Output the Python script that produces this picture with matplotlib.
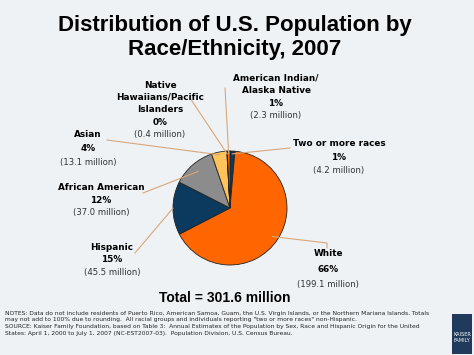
import numpy as np
import matplotlib.pyplot as plt
from matplotlib.patches import Rectangle

W, H = 474, 355

groups = ["Two or more races", "White", "Hispanic", "African American", "Asian",
          "Native Hawaiians/Pacific Islanders", "American Indian/Alaska Native"]
millions = [4.2, 199.1, 45.5, 37.0, 13.1, 0.4, 2.3]
pct_labels = ["1%", "66%", "15%", "12%", "4%", "0%", "1%"]
colors = ["#0b3a5e", "#ff6600", "#0b3a5e", "#8c8c8c", "#ffc35c", "#ffe0b0", "#ff6600"]

bg = "#eef2f5"
line_col = "#d8a77c"

fig = plt.figure(figsize=(W / 100, H / 100), dpi=100, facecolor=bg)


def px(x, y):
    return x / W, 1 - y / H


# pie centre at (230, 208) px, radius 57 px
cx, cy, r = 230, 208, 57
ax = fig.add_axes([(cx - r) / W, (H - cy - r) / H, 2 * r / W, 2 * r / H])
ax.set_facecolor(bg)
wedges, _ = ax.pie(millions, colors=colors, startangle=90, counterclock=False,
                   radius=1, wedgeprops=dict(edgecolor="#222222", linewidth=0.6))
ax.set_xlim(-1, 1)
ax.set_ylim(-1, 1)
ax.set_aspect("equal")
ax.axis("off")

title_font = "Liberation Sans"
fig.text(0.5 - 2 / W, 1 - 26 / H, "Distribution of U.S. Population by", ha="center", va="center",
         fontsize=16, fontweight="bold", family=title_font, color="black")
fig.text(0.5 - 2 / W, 1 - 50 / H, "Race/Ethnicity, 2007", ha="center", va="center",
         fontsize=16, fontweight="bold", family=title_font, color="black")


def label(x, y, name_lines, pct, mil, step=12.5):
    lines = name_lines + [pct]
    for i, t in enumerate(lines):
        fig.text(*px(x, y + i * step), t, ha="center", va="center",
                 fontsize=6.4, fontweight="bold", color="black")
    fig.text(*px(x, y + len(lines) * step), "(%.1f million)" % mil, ha="center",
             va="center", fontsize=6.1, color="#333333")


label(160, 85, ["Native", "Hawaiians/Pacific", "Islanders"], pct_labels[5], millions[5])
label(276, 78, ["American Indian/", "Alaska Native"], pct_labels[6], millions[6])
label(88, 135, ["Asian"], pct_labels[4], millions[4], step=13.5)
label(339, 144, ["Two or more races"], pct_labels[0], millions[0], step=13.5)
label(101, 188, ["African American"], pct_labels[3], millions[3])
label(112, 247, ["Hispanic"], pct_labels[2], millions[2])
label(328, 254, ["White"], pct_labels[1], millions[1], step=15)


# leader lines from label side to wedge
def leader(idx, pts, rr=1.0):
    w = wedges[idx]
    a = np.deg2rad((w.theta1 + w.theta2) / 2)
    tx = cx + rr * r * np.cos(a)
    ty = cy - rr * r * np.sin(a)
    xs = [p[0] for p in pts] + [tx]
    ys = [p[1] for p in pts] + [ty]
    fig.add_artist(plt.Line2D([x / W for x in xs], [1 - y / H for y in ys],
                              color=line_col, linewidth=0.8, transform=fig.transFigure))


leader(5, [(190, 98)], 0.95)
leader(6, [(225, 88)], 0.95)
leader(4, [(107, 140)], 0.95)
leader(0, [(290, 148)], 0.95)
leader(3, [(143, 193)], 0.85)
leader(2, [(135, 253)], 1.0)
leader(1, [(327, 248), (327, 243)], 0.9)

fig.text(*px(225, 298), "Total = 301.6 million", ha="center", va="center",
         fontsize=10, fontweight="bold", family=title_font, color="black")

notes = [
    "NOTES: Data do not include residents of Puerto Rico, American Samoa, Guam, the U.S. Virgin Islands, or the Northern Mariana Islands. Totals",
    "may not add to 100% due to rounding.  All racial groups and individuals reporting \"two or more races\" non-Hispanic.",
    "SOURCE: Kaiser Family Foundation, based on Table 3:  Annual Estimates of the Population by Sex, Race and Hispanic Origin for the United",
    "States: April 1, 2000 to July 1, 2007 (NC-EST2007-03).  Population Division, U.S. Census Bureau.",
]
for i, t in enumerate(notes):
    fig.text(*px(5, 313 + i * 6.8), t, ha="left", va="center", fontsize=4.35, color="#222222")

# logo
fig.add_artist(Rectangle(px(452, 354), 20 / W, 40 / H, transform=fig.transFigure,
                         facecolor="#1f3a5c", edgecolor="none"))
fig.text(*px(462, 334), "KAISER", ha="center", va="center", fontsize=3.6, color="white")
fig.text(*px(462, 340), "FAMILY", ha="center", va="center", fontsize=3.6, color="white")

fig.savefig("out.png", dpi=100, facecolor=bg)
